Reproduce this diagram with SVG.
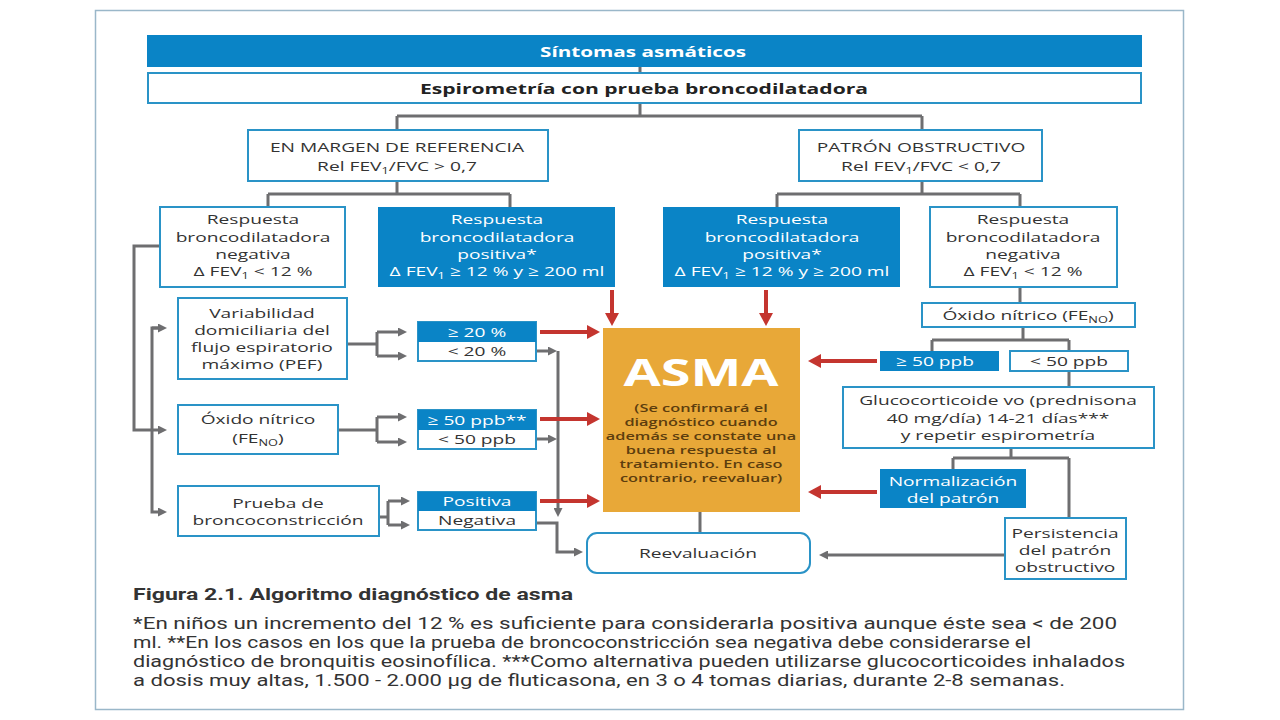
<svg xmlns="http://www.w3.org/2000/svg" width="1280" height="720" viewBox="0 0 1280 720">
<defs>
<style>
.bx{fill:#fff;stroke:#2a93c7;stroke-width:2}
.bl{fill:#0a84c6}
.t{font-family:"Open Sans","Noto Sans",sans-serif;font-size:13.5px;fill:#333;text-anchor:middle}
.w{fill:#fff}
.sub{font-size:9px}
.c{fill:none;stroke:#6e6e70;stroke-width:3}
.r{fill:none;stroke:#c4352f;stroke-width:4}
.fn{font-family:Roboto,"Liberation Sans",sans-serif;font-size:16px;fill:#333}
.hd{font-family:"Open Sans","Noto Sans",sans-serif;font-size:15px;font-weight:bold;text-anchor:middle}
</style>
<marker id="ag" viewBox="0 0 9 9" refX="2" refY="4.5" markerWidth="9" markerHeight="9" markerUnits="userSpaceOnUse" orient="auto"><path d="M0,0 L9,4.5 L0,9 z" fill="#6e6e70"/></marker>
<marker id="ar" viewBox="0 0 13 14" refX="3" refY="7" markerWidth="13" markerHeight="14" markerUnits="userSpaceOnUse" orient="auto"><path d="M0,0 L13,7 L0,14 z" fill="#c4352f"/></marker>
</defs>
<rect x="0" y="0" width="1280" height="720" fill="#fff"/>
<rect x="95.5" y="10.5" width="1088" height="699" fill="none" stroke="#9ab7c9" stroke-width="1.5"/>

<g id="connectors">
<path class="c" d="M640,67 V73 M640,103 V116 M397,116 H922 M397,116 V130 M922,116 V130"/>
<path class="c" d="M397,181 V194 M268,194 H510 M268,194 V207 M510,194 V207"/>
<path class="c" d="M922,181 V194 M777,194 H1020 M777,194 V207 M1020,194 V207"/>
<path class="c" d="M1020,287 V303 M1023,327 V340 M932,340 H1069 M932,340 V351 M1069,340 V351 M1069,371 V387"/>
<path class="c" d="M1011,448 V458 M953,458 H1069 M953,458 V469 M1069,458 V518"/>
<path class="c" d="M1005,555 H826" marker-end="url(#ag)"/>
<path class="c" d="M700,512 V533"/>
<path class="c" d="M160,246 H134 V430 H160" marker-end="url(#ag)"/>
<path class="c" d="M160,328 H152 V512 H160" marker-end="url(#ag)"/>
<path class="c" d="M152,328 H160" marker-end="url(#ag)"/>
<path class="c" d="M347,344 H377 M377,332 V356"/>
<path class="c" d="M377,332 H400" marker-end="url(#ag)"/>
<path class="c" d="M377,356 H400" marker-end="url(#ag)"/>
<path class="c" d="M338,430 H377 M377,417 V442"/>
<path class="c" d="M377,417 H400" marker-end="url(#ag)"/>
<path class="c" d="M377,442 H400" marker-end="url(#ag)"/>
<path class="c" d="M379,517 H388 M388,501 V525"/>
<path class="c" d="M388,501 H403" marker-end="url(#ag)"/>
<path class="c" d="M388,525 H403" marker-end="url(#ag)"/>
<path class="c" d="M536,351 H550" marker-end="url(#ag)"/>
<path class="c" d="M558,351 V510" marker-end="url(#ag)"/>
<path class="c" d="M536,439 H550" marker-end="url(#ag)"/>
<path class="c" d="M536,523 H557 V552 H576" marker-end="url(#ag)"/>
<path class="r" d="M540,332 H590" marker-end="url(#ar)"/>
<path class="r" d="M540,419 H590" marker-end="url(#ar)"/>
<path class="r" d="M540,501 H590" marker-end="url(#ar)"/>
<path class="r" d="M612,290 V316" marker-end="url(#ar)"/>
<path class="r" d="M766,290 V316" marker-end="url(#ar)"/>
<path class="r" d="M877,361 H818" marker-end="url(#ar)"/>
<path class="r" d="M877,492 H818" marker-end="url(#ar)"/>
</g>

<g id="sintomas">
<rect x="147" y="35" width="995" height="32" class="bl"/>
<text class="hd w" x="643" y="57" textLength="206" lengthAdjust="spacingAndGlyphs">Síntomas asmáticos</text>
</g>
<g id="espirometria">
<rect x="148" y="73" width="993" height="30" class="bx"/>
<text class="hd" x="644" y="94" fill="#222" textLength="448" lengthAdjust="spacingAndGlyphs">Espirometría con prueba broncodilatadora</text>
</g>

<g id="margen">
<rect x="248" y="130" width="300" height="51" class="bx"/>
<text class="t" transform="translate(397 0) scale(1.42 1)"><tspan x="0" y="152">EN MARGEN DE REFERENCIA</tspan><tspan x="0" y="171">Rel FEV<tspan class="sub" dy="3">1</tspan><tspan dy="-3">/FVC &gt; 0,7</tspan></tspan></text>
</g>
<g id="obstructivo">
<rect x="799" y="130" width="243" height="51" class="bx"/>
<text class="t" transform="translate(921 0) scale(1.42 1)"><tspan x="0" y="152">PATRÓN OBSTRUCTIVO</tspan><tspan x="0" y="171">Rel FEV<tspan class="sub" dy="3">1</tspan><tspan dy="-3">/FVC &lt; 0,7</tspan></tspan></text>
</g>

<g id="neg-izq">
<rect x="160" y="207" width="185" height="80" class="bx"/>
<text class="t" transform="translate(253 0) scale(1.42 1)"><tspan x="0" y="224">Respuesta</tspan><tspan x="0" y="242">broncodilatadora</tspan><tspan x="0" y="259">negativa</tspan><tspan x="0" y="276">Δ FEV<tspan class="sub" dy="3">1</tspan><tspan dy="-3"> &lt; 12 %</tspan></tspan></text>
</g>
<g id="pos-izq">
<rect x="378" y="207" width="237" height="80" class="bl"/>
<text class="t w" transform="translate(497 0) scale(1.42 1)"><tspan x="0" y="224">Respuesta</tspan><tspan x="0" y="242">broncodilatadora</tspan><tspan x="0" y="259">positiva*</tspan><tspan x="0" y="276">Δ FEV<tspan class="sub" dy="3">1</tspan><tspan dy="-3"> ≥ 12 % y ≥ 200 ml</tspan></tspan></text>
</g>
<g id="pos-der">
<rect x="663" y="207" width="237" height="80" class="bl"/>
<text class="t w" transform="translate(782 0) scale(1.42 1)"><tspan x="0" y="224">Respuesta</tspan><tspan x="0" y="242">broncodilatadora</tspan><tspan x="0" y="259">positiva*</tspan><tspan x="0" y="276">Δ FEV<tspan class="sub" dy="3">1</tspan><tspan dy="-3"> ≥ 12 % y ≥ 200 ml</tspan></tspan></text>
</g>
<g id="neg-der">
<rect x="930" y="207" width="187" height="80" class="bx"/>
<text class="t" transform="translate(1023 0) scale(1.42 1)"><tspan x="0" y="224">Respuesta</tspan><tspan x="0" y="242">broncodilatadora</tspan><tspan x="0" y="259">negativa</tspan><tspan x="0" y="276">Δ FEV<tspan class="sub" dy="3">1</tspan><tspan dy="-3"> &lt; 12 %</tspan></tspan></text>
</g>

<g id="variabilidad">
<rect x="178" y="298" width="169" height="81" class="bx"/>
<text class="t" transform="translate(262 0) scale(1.42 1)"><tspan x="0" y="318">Variabilidad</tspan><tspan x="0" y="335">domiciliaria del</tspan><tspan x="0" y="352">flujo espiratorio</tspan><tspan x="0" y="369">máximo (PEF)</tspan></text>
</g>
<g id="oxido-izq">
<rect x="178" y="405" width="160" height="49" class="bx"/>
<text class="t" transform="translate(258 0) scale(1.42 1)"><tspan x="0" y="424">Óxido nítrico</tspan><tspan x="0" y="443">(FE<tspan class="sub" dy="3">NO</tspan><tspan dy="-3">)</tspan></tspan></text>
</g>
<g id="prueba">
<rect x="178" y="486" width="201" height="50" class="bx"/>
<text class="t" transform="translate(278 0) scale(1.42 1)"><tspan x="0" y="508">Prueba de</tspan><tspan x="0" y="525">broncoconstricción</tspan></text>
</g>

<g id="pef-opc">
<rect x="418" y="322" width="118" height="39" class="bx"/>
<rect x="418" y="322" width="118" height="20" class="bl"/>
<text class="t w" transform="translate(477 0) scale(1.42 1)"><tspan x="0" y="337">≥ 20 %</tspan></text>
<text class="t" transform="translate(477 0) scale(1.42 1)"><tspan x="0" y="356">&lt; 20 %</tspan></text>
</g>
<g id="feno-opc">
<rect x="418" y="410" width="118" height="39" class="bx"/>
<rect x="418" y="410" width="118" height="20" class="bl"/>
<text class="t w" transform="translate(477 0) scale(1.42 1)"><tspan x="0" y="425">≥ 50 ppb**</tspan></text>
<text class="t" transform="translate(477 0) scale(1.42 1)"><tspan x="0" y="444">&lt; 50 ppb</tspan></text>
</g>
<g id="bronco-opc">
<rect x="418" y="492" width="118" height="38" class="bx"/>
<rect x="418" y="492" width="118" height="19" class="bl"/>
<text class="t w" transform="translate(477 0) scale(1.42 1)"><tspan x="0" y="506">Positiva</tspan></text>
<text class="t" transform="translate(477 0) scale(1.42 1)"><tspan x="0" y="525">Negativa</tspan></text>
</g>

<g id="asma">
<rect x="603" y="328" width="197" height="184" fill="#e8a838"/>
<text class="t" transform="translate(701 0) scale(1.42 1)" style="font-size:38px;font-weight:bold;fill:#fff"><tspan x="0" y="386">ASMA</tspan></text>
<text class="t" transform="translate(701 0) scale(1.42 1)" style="font-size:11.5px;font-weight:600;fill:#5c3d0e"><tspan x="0" y="412">(Se confirmará el</tspan><tspan x="0" y="426">diagnóstico cuando</tspan><tspan x="0" y="440">además se constate una</tspan><tspan x="0" y="454">buena respuesta al</tspan><tspan x="0" y="468">tratamiento. En caso</tspan><tspan x="0" y="482">contrario, reevaluar)</tspan></text>
</g>
<g id="reevaluacion">
<rect x="587" y="533" width="223" height="40" rx="10" class="bx"/>
<text class="t" transform="translate(698 0) scale(1.42 1)"><tspan x="0" y="558">Reevaluación</tspan></text>
</g>

<g id="oxido-der">
<rect x="922" y="303" width="213" height="24" class="bx"/>
<text class="t" transform="translate(1028 0) scale(1.42 1)"><tspan x="0" y="320">Óxido nítrico (FE<tspan class="sub" dy="3">NO</tspan><tspan dy="-3">)</tspan></tspan></text>
</g>
<g id="feno-alto">
<rect x="880" y="351" width="119" height="20" class="bl"/>
<text class="t w" transform="translate(935 0) scale(1.42 1)"><tspan x="0" y="366">≥ 50 ppb</tspan></text>
</g>
<g id="feno-bajo">
<rect x="1010" y="351" width="118" height="20" class="bx"/>
<text class="t" transform="translate(1069 0) scale(1.42 1)"><tspan x="0" y="366">&lt; 50 ppb</tspan></text>
</g>
<g id="glucocorticoide">
<rect x="843" y="387" width="311" height="61" class="bx"/>
<text class="t" transform="translate(998 0) scale(1.42 1)"><tspan x="0" y="405">Glucocorticoide vo (prednisona</tspan><tspan x="0" y="423">40 mg/día) 14-21 días***</tspan><tspan x="0" y="440">y repetir espirometría</tspan></text>
</g>
<g id="normalizacion">
<rect x="880" y="469" width="146" height="39" class="bl"/>
<text class="t w" transform="translate(953 0) scale(1.42 1)"><tspan x="0" y="486">Normalización</tspan><tspan x="0" y="503">del patrón</tspan></text>
</g>
<g id="persistencia">
<rect x="1005" y="518" width="121" height="61" class="bx"/>
<text class="t" transform="translate(1065 0) scale(1.42 1)"><tspan x="0" y="538">Persistencia</tspan><tspan x="0" y="555">del patrón</tspan><tspan x="0" y="572">obstructivo</tspan></text>
</g>

<g id="pie">
<text class="fn" x="133" y="600" font-weight="bold" font-size="17" fill="#222" textLength="440" lengthAdjust="spacingAndGlyphs">Figura 2.1. Algoritmo diagnóstico de asma</text>
<text class="fn" x="133" y="629" textLength="984" lengthAdjust="spacingAndGlyphs">*En niños un incremento del 12 % es suficiente para considerarla positiva aunque éste sea &lt; de 200</text>
<text class="fn" x="133" y="648" textLength="898" lengthAdjust="spacingAndGlyphs">ml. **En los casos en los que la prueba de broncoconstricción sea negativa debe considerarse el</text>
<text class="fn" x="133" y="667" textLength="992" lengthAdjust="spacingAndGlyphs">diagnóstico de bronquitis eosinofílica. ***Como alternativa pueden utilizarse glucocorticoides inhalados</text>
<text class="fn" x="133" y="686" textLength="932" lengthAdjust="spacingAndGlyphs">a dosis muy altas, 1.500 - 2.000 µg de fluticasona, en 3 o 4 tomas diarias, durante 2-8 semanas.</text>
</g>
</svg>
